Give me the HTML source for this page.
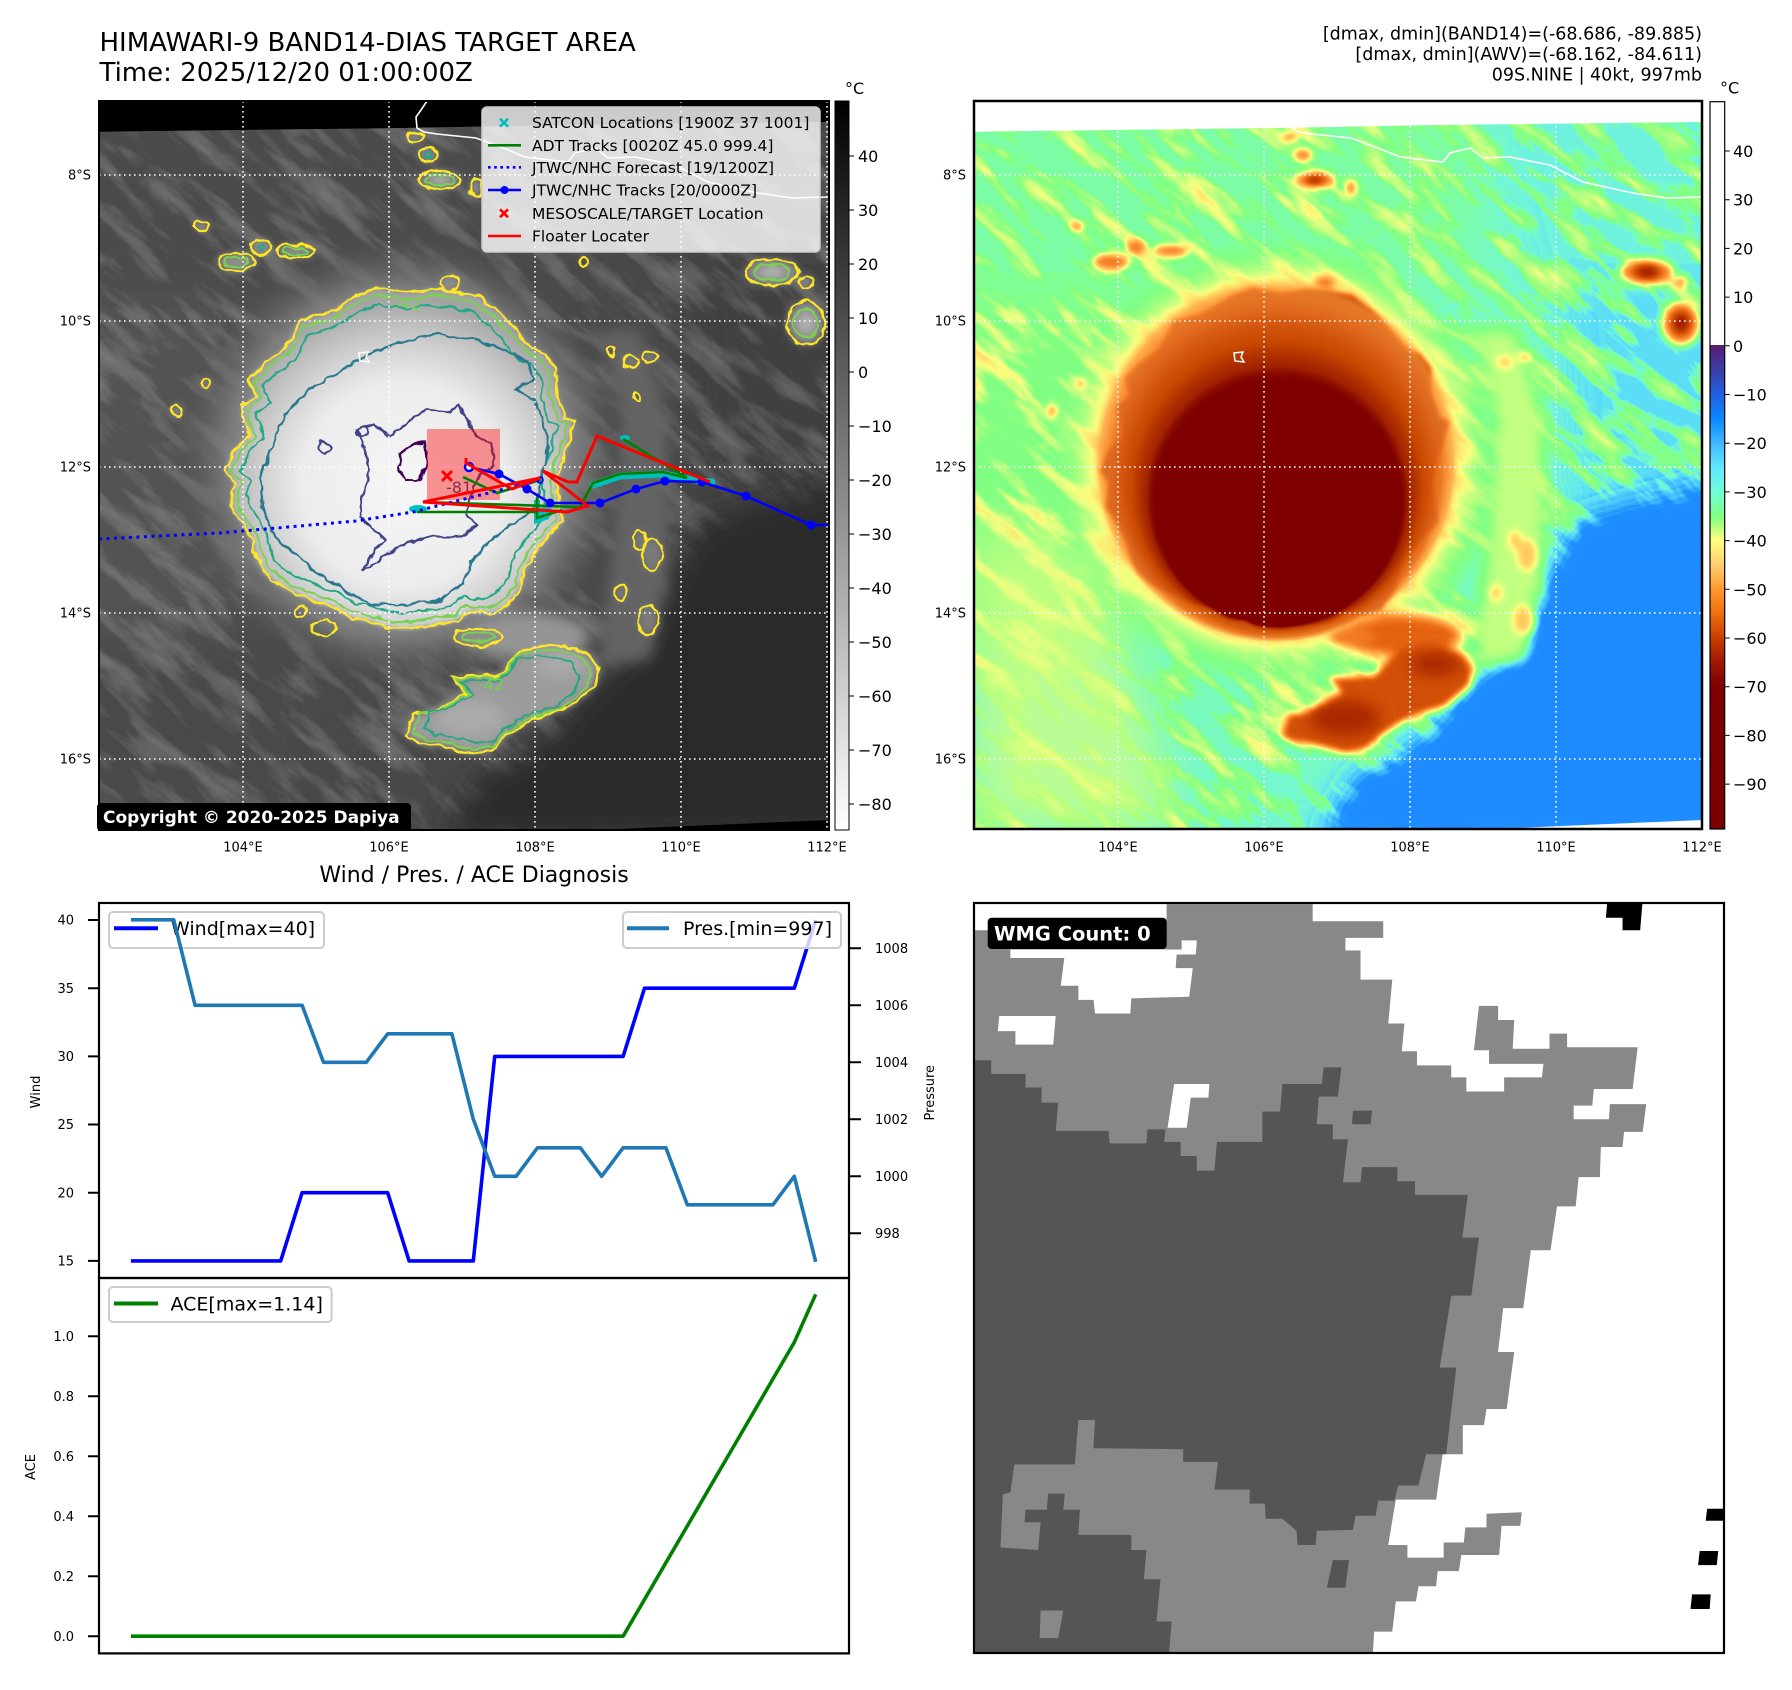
<!DOCTYPE html>
<html><head><meta charset="utf-8"><title>HIMAWARI-9 BAND14-DIAS TARGET AREA</title>
<style>
html,body{margin:0;padding:0;background:#fff;}
svg{display:block;}
text{font-family:"DejaVu Sans","Liberation Sans",sans-serif;}
</style></head><body>
<svg width="1792" height="1690" viewBox="0 0 1792 1690" xmlns="http://www.w3.org/2000/svg">
<defs>
 <clipPath id="cL"><rect x="99" y="101" width="730" height="729"/></clipPath>
 <clipPath id="cR"><rect x="974" y="101" width="728" height="728"/></clipPath>
 <clipPath id="cBR"><rect x="975" y="904" width="748" height="748"/></clipPath>
 <filter id="b25" x="-60%" y="-60%" width="220%" height="220%"><feGaussianBlur stdDeviation="25"/></filter>
 <filter id="b14" x="-50%" y="-50%" width="200%" height="200%"><feGaussianBlur stdDeviation="14"/></filter>
 <filter id="b7" x="-50%" y="-50%" width="200%" height="200%"><feGaussianBlur stdDeviation="7"/></filter>
 <filter id="b4" x="-50%" y="-50%" width="200%" height="200%"><feGaussianBlur stdDeviation="4"/></filter>
 <filter id="b2" x="-20%" y="-20%" width="140%" height="140%"><feGaussianBlur stdDeviation="2.5"/></filter>
 <filter id="nz" x="0" y="0" width="1" height="1" color-interpolation-filters="sRGB">
  <feTurbulence type="fractalNoise" baseFrequency="0.013 0.05" numOctaves="4" seed="11"/>
  <feColorMatrix type="matrix" values="0 0 0 0 1  0 0 0 0 1  0 0 0 0 1  1.1 0 0 0 -0.5"/>
  <feComponentTransfer><feFuncA type="table" tableValues="0 0.12 0.2 0.24 0.26 0.27"/></feComponentTransfer>
 </filter>
 <filter id="wob" x="-5%" y="-5%" width="110%" height="110%" color-interpolation-filters="sRGB">
  <feTurbulence type="fractalNoise" baseFrequency="0.09" numOctaves="2" seed="5" result="t"/>
  <feDisplacementMap in="SourceGraphic" in2="t" scale="7" xChannelSelector="R" yChannelSelector="G"/>
 </filter>
 <filter id="cmap" x="0" y="0" width="1" height="1" color-interpolation-filters="sRGB">
  <feComponentTransfer>
   <feFuncR type="table" tableValues="0.118 0.118 0.118 0.118 0.118 0.118 0.118 0.118 0.118 0.239 0.356 0.45 0.502 0.502 0.584 0.686 0.824 0.969 1 1 1 1 0.961 0.912 0.85 0.784 0.719 0.654 0.588 0.545 0.502 0.498 0.498 0.498 0.498 0.498 0.498 0.498 0.498 0.498 0.498"/>
   <feFuncG type="table" tableValues="0.431 0.447 0.465 0.482 0.498 0.514 0.531 0.549 0.565 0.725 0.869 0.967 1 1 1 1 1 1 0.914 0.806 0.706 0.608 0.51 0.412 0.34 0.275 0.209 0.144 0.078 0.039 0 0 0 0 0 0 0 0 0 0 0"/>
   <feFuncB type="table" tableValues="1 1 1 1 1 1 1 1 1 1 0.967 0.85 0.588 0.516 0.502 0.502 0.502 0.502 0.451 0.388 0.314 0.235 0.157 0.078 0.042 0.016 0 0 0 0 0 0 0 0 0 0 0 0 0 0 0"/>
  </feComponentTransfer>
 </filter>
 <radialGradient id="gs" gradientUnits="userSpaceOnUse" cx="403" cy="485" r="185">
  <stop offset="0" stop-color="#f6f6f6"/>
  <stop offset="0.55" stop-color="#ececec"/>
  <stop offset="0.72" stop-color="#d6d6d6"/>
  <stop offset="0.86" stop-color="#c0c0c0"/>
  <stop offset="1" stop-color="#a4a4a4"/>
 </radialGradient>
 <radialGradient id="gh" gradientUnits="userSpaceOnUse" cx="402" cy="462" r="245">
  <stop offset="0.62" stop-color="#909090" stop-opacity="1"/>
  <stop offset="0.72" stop-color="#808080" stop-opacity="0.85"/>
  <stop offset="0.82" stop-color="#6a6a6a" stop-opacity="0.45"/>
  <stop offset="0.92" stop-color="#555555" stop-opacity="0"/>
 </radialGradient>
 <radialGradient id="ring" gradientUnits="userSpaceOnUse" cx="1276" cy="460" r="182" fx="1282" fy="593">
  <stop offset="0" stop-color="#800000" stop-opacity="0"/>
  <stop offset="0.67" stop-color="#800000" stop-opacity="0"/>
  <stop offset="0.72" stop-color="#b03000" stop-opacity="0.7"/>
  <stop offset="0.8" stop-color="#d05000" stop-opacity="0.9"/>
  <stop offset="0.9" stop-color="#e87020" stop-opacity="0.9"/>
  <stop offset="0.97" stop-color="#ffa040" stop-opacity="0.6"/>
  <stop offset="1" stop-color="#ffd060" stop-opacity="0"/>
 </radialGradient>
 <linearGradient id="cbL" x1="0" y1="0" x2="0" y2="1">
  <stop offset="0" stop-color="#000"/><stop offset="1" stop-color="#fff"/>
 </linearGradient>
 <linearGradient id="cbR" x1="0" y1="0" x2="0" y2="1">
  <stop offset="0" stop-color="#fff"/><stop offset="0.3345" stop-color="#fff"/>
  <stop offset="0.3346" stop-color="#5c1a70"/><stop offset="0.37" stop-color="#3a3fa8"/>
  <stop offset="0.4024" stop-color="#2060e0"/><stop offset="0.436" stop-color="#0a88ff"/>
  <stop offset="0.4695" stop-color="#40b8ff"/><stop offset="0.503" stop-color="#60e8ff"/>
  <stop offset="0.537" stop-color="#70ffd8"/><stop offset="0.571" stop-color="#80ff80"/>
  <stop offset="0.6026" stop-color="#ffff80"/><stop offset="0.636" stop-color="#ffd070"/>
  <stop offset="0.6697" stop-color="#ff9a30"/><stop offset="0.703" stop-color="#f07010"/>
  <stop offset="0.7366" stop-color="#c84000"/><stop offset="0.77" stop-color="#a01800"/>
  <stop offset="0.8034" stop-color="#800000"/><stop offset="1" stop-color="#7a0000"/>
 </linearGradient>
 <path id="Yp" d="M377,288 L406,293 L434,289 L452,291 L477,295 L499,312 L516,330 L531,348 L545,354 L556,368 L556,393 L565,418 L574,421 L568,443 L561,464 L556,482 L559,500 L563,521 L549,536 L534,554 L524,571 L520,589 L506,607 L491,614 L470,611 L456,621 L434,625 L406,629 L384,627 L370,621 L352,618 L334,607 L316,602 L295,593 L277,584 L263,571 L256,557 L252,539 L241,521 L231,507 L234,482 L225,471 L234,450 L249,436 L241,407 L256,396 L249,379 L263,364 L284,350 L299,321 L327,314 L356,296 Z"/>
 <path id="SBp" d="M452,677 L499,675 L524,648 L563,645 L588,654 L599,668 L595,686 L570,707 L534,718 L506,736 L491,750 L470,754 L441,746 L420,743 L406,736 L413,714 L434,711 L449,704 L466,693 Z"/>
 <g id="fld">
  <rect x="99" y="101" width="730" height="729" fill="#494949"/>
  <g filter="url(#b25)">
   <path d="M40,60 L620,60 L610,240 L470,300 L300,330 L40,340 Z" fill="#4c4c4c"/>
   <path d="M600,60 L880,60 L880,290 L640,300 Z" fill="#454545"/>
   <path d="M680,280 L880,280 L880,520 L690,520 Z" fill="#404040"/>
   <path d="M40,300 L255,300 L240,480 L262,640 L40,650 Z" fill="#535353"/>
   <path d="M40,640 L330,630 L330,880 L40,880 Z" fill="#4a4a4a"/>
   <path d="M300,760 L470,760 L470,880 L300,880 Z" fill="#464646"/>
  </g>
  <rect x="-400" y="-300" width="1700" height="1400" transform="rotate(40 464 465)" filter="url(#nz)"/>
  <path d="M880,470 L699,521 L673,574 L635,651 L596,678 L558,727 L520,758 L482,773 L463,804 L443,840 L880,840 Z" fill="#2c2c2c" filter="url(#b14)"/>
  <ellipse cx="402" cy="462" rx="245" ry="240" fill="url(#gh)"/>
  <g filter="url(#b7)">
   <path d="M600,330 L640,330 L668,420 L668,560 L650,660 L600,665 L612,560 L622,420 Z" fill="#646464"/>
   <ellipse cx="530" cy="636" rx="60" ry="24" fill="#959595"/>
  </g>
  <g filter="url(#b4)" fill="#8e8e8e">
   <ellipse cx="415" cy="137" rx="9" ry="5"/><ellipse cx="428" cy="155" rx="10" ry="7"/>
   <ellipse cx="440" cy="180" rx="21" ry="9"/><ellipse cx="476" cy="188" rx="6" ry="9"/>
   <ellipse cx="202" cy="226" rx="7" ry="5"/><ellipse cx="261" cy="247" rx="10" ry="8"/>
   <ellipse cx="296" cy="251" rx="19" ry="7"/><ellipse cx="236" cy="262" rx="19" ry="9"/>
   <ellipse cx="772" cy="272" rx="27" ry="13"/><ellipse cx="806" cy="282" rx="7" ry="6"/>
   <ellipse cx="450" cy="283" rx="10" ry="7"/><ellipse cx="806" cy="323" rx="19" ry="22"/>
   <ellipse cx="177" cy="411" rx="5" ry="7"/><ellipse cx="206" cy="383" rx="4" ry="5"/>
   <ellipse cx="650" cy="357" rx="8" ry="6" fill="#7a7a7a"/><ellipse cx="630" cy="362" rx="8" ry="6" fill="#7a7a7a"/>
   <ellipse cx="652" cy="555" rx="10" ry="16" fill="#7a7a7a"/><ellipse cx="621" cy="593" rx="6" ry="8" fill="#7a7a7a"/>
   <ellipse cx="640" cy="540" rx="6" ry="10" fill="#7a7a7a"/><ellipse cx="648" cy="620" rx="10" ry="15" fill="#7a7a7a"/>
   <ellipse cx="478" cy="637" rx="24" ry="9"/>
   <ellipse cx="440" cy="180" rx="8" ry="4" fill="#b0b0b0"/><ellipse cx="772" cy="272" rx="12" ry="6" fill="#b0b0b0"/>
   <ellipse cx="806" cy="323" rx="8" ry="10" fill="#b0b0b0"/>
  </g>
  <use href="#SBp" fill="#9c9c9c" filter="url(#b4)"/>
  <g filter="url(#b7)" fill="#aaaaaa">
   <ellipse cx="470" cy="718" rx="35" ry="18"/><ellipse cx="560" cy="664" rx="25" ry="12"/>
  </g>
  <use href="#Yp" fill="url(#gs)" filter="url(#b2)"/>
 </g>
</defs>

<rect x="0" y="0" width="1792" height="1690" fill="#fff"/>

<!-- Titles -->
<text x="99.5" y="51" font-size="26" fill="#000">HIMAWARI-9 BAND14-DIAS TARGET AREA</text>
<text x="99.5" y="81" font-size="26" fill="#000">Time: 2025/12/20 01:00:00Z</text>
<g font-size="17.5" text-anchor="end" fill="#000">
 <text x="1702" y="39.5">[dmax, dmin](BAND14)=(-68.686, -89.885)</text>
 <text x="1702" y="60">[dmax, dmin](AWV)=(-68.162, -84.611)</text>
 <text x="1702" y="80.5">09S.NINE | 40kt, 997mb</text>
</g>

<!-- ================= LEFT MAP ================= -->
<g clip-path="url(#cL)">
 <use href="#fld"/>
 <path d="M99,101 L829,101 L829,122 L560,125 L400,128 L99,131.7 Z" fill="#000"/>
 <path d="M595,830 L829,830 L829,820 Z" fill="#000"/>
 <path d="M427,101 L421,110 L416,117 L417,128 L424,132 L437,134 L476,138 L508,150 L525,157 L568,162 L575,153 L595,148 L608,158 L635,157 L675,165 L708,182 L758,193 L792,198 L829,197" fill="none" stroke="#fff" stroke-width="1.6"/>
 <!-- contours -->
 <g filter="url(#wob)" fill="none" stroke-width="2.3">
  <use href="#Yp" stroke="#fde725"/>
  <use href="#Yp" stroke="#7ad151" transform="matrix(0.962 0 0 0.962 15.2 17.6)"/>
  <use href="#Yp" stroke="#22a884" transform="matrix(0.905 0 0 0.905 38 43.9)"/>
  <path d="M391,345 L434,334 L470,339 L506,350 L527,361 L534,379 L516,389 L534,400 L541,418 L549,439 L545,464 L538,493 L534,507 L506,529 L488,543 L470,564 L463,582 L441,600 L399,605 L370,604 L349,593 L327,579 L306,564 L291,550 L274,536 L263,507 L261,479 L270,450 L277,432 L291,407 L309,389 L334,375 L363,357 Z" stroke="#2a788e"/>
  <path d="M356,429 L373,425 L391,436 L413,418 L427,409 L449,413 L459,404 L466,418 L477,436 L491,443 L495,464 L477,479 L470,500 L466,514 L477,525 L463,536 L434,536 L406,543 L388,554 L377,561 L363,571 L370,557 L384,539 L370,525 L359,518 L363,493 L370,471 L363,443 Z" stroke="#414487"/>
  <path d="M400,454 L413,445 L425,443 L427,464 L420,479 L406,482 L399,468 Z" stroke="#440154"/>
  <ellipse cx="324" cy="447" rx="6" ry="5" stroke="#414487"/>
  <ellipse cx="362" cy="432" rx="6" ry="5" stroke="#414487"/>
  <use href="#SBp" stroke="#fde725"/>
  <use href="#SBp" stroke="#7ad151" transform="matrix(0.92 0 0 0.92 40 56)"/>
  <use href="#SBp" stroke="#22a884" transform="matrix(0.8 0 0 0.8 100 140)"/>
  <g stroke="#fde725">
   <ellipse cx="415" cy="137" rx="9" ry="5"/><ellipse cx="428" cy="155" rx="10" ry="7"/>
   <ellipse cx="440" cy="180" rx="21" ry="9"/><ellipse cx="476" cy="188" rx="6" ry="9"/>
   <ellipse cx="202" cy="226" rx="7" ry="5"/><ellipse cx="261" cy="247" rx="10" ry="8"/>
   <ellipse cx="296" cy="251" rx="19" ry="7"/><ellipse cx="236" cy="262" rx="19" ry="9"/>
   <ellipse cx="772" cy="272" rx="27" ry="13"/><ellipse cx="806" cy="282" rx="7" ry="6"/>
   <ellipse cx="450" cy="283" rx="10" ry="7"/><ellipse cx="806" cy="323" rx="19" ry="22"/>
   <ellipse cx="177" cy="411" rx="5" ry="7"/><ellipse cx="206" cy="383" rx="4" ry="5"/>
   <ellipse cx="650" cy="357" rx="8" ry="6"/><ellipse cx="630" cy="362" rx="8" ry="6"/>
   <ellipse cx="652" cy="555" rx="10" ry="16"/><ellipse cx="621" cy="593" rx="6" ry="8"/>
   <ellipse cx="640" cy="540" rx="6" ry="10"/><ellipse cx="648" cy="620" rx="10" ry="15"/>
   <ellipse cx="478" cy="637" rx="24" ry="9"/><ellipse cx="583" cy="263" rx="4" ry="4"/>
   <ellipse cx="612" cy="352" rx="4" ry="4"/><ellipse cx="637" cy="396" rx="3" ry="4"/>
   <ellipse cx="323" cy="628" rx="12" ry="8"/><ellipse cx="300" cy="612" rx="6" ry="5"/>
  </g>
  <g stroke="#7ad151">
   <ellipse cx="440" cy="180" rx="14" ry="5"/><ellipse cx="772" cy="272" rx="18" ry="8"/>
   <ellipse cx="806" cy="323" rx="12" ry="14"/><ellipse cx="296" cy="251" rx="12" ry="4"/>
   <ellipse cx="236" cy="262" rx="12" ry="5"/><ellipse cx="478" cy="637" rx="16" ry="5"/>
  </g>
  <g stroke="#22a884"><ellipse cx="428" cy="155" rx="3" ry="3"/><ellipse cx="261" cy="247" rx="3" ry="3"/></g>
 </g>
 <g font-size="16">
  <text x="395" y="309" fill="#7ad151">-42</text>
  <text x="446" y="493" fill="#414487">-81</text>
  <text x="478" y="690" fill="#7ad151">-42</text>
 </g>
 <path d="M359,353 L368,352 L366,357 L369,362 L360,361 Z" fill="none" stroke="#fff" stroke-width="1.5"/>
 <!-- gridlines -->
 <g stroke="#fff" stroke-width="1.6" stroke-dasharray="1.6,3.4" fill="none">
  <path d="M243,101 V830 M389,101 V830 M535,101 V830 M681,101 V830 M827,101 V830"/>
  <path d="M99,175 H829 M99,321 H829 M99,467 H829 M99,613 H829 M99,759 H829"/>
 </g>
 <!-- tracks -->
 <rect x="427" y="429" width="73" height="71" fill="#ff0000" fill-opacity="0.4"/>
 <g fill="#00bfbf">
  <ellipse cx="418" cy="509" rx="9" ry="4"/><ellipse cx="545" cy="512" rx="9" ry="5"/><ellipse cx="625" cy="438" rx="5" ry="3"/>
 </g>
 <polyline points="593,485 620,476 663,474 700,481 712,482" fill="none" stroke="#00bfbf" stroke-width="7" stroke-linecap="round"/>
 <polyline points="537,500 537,520 548,516" fill="none" stroke="#00bfbf" stroke-width="6"/>
 <g fill="none" stroke="#008000" stroke-width="2.6">
  <polyline points="417,512 537,512"/>
  <polyline points="537,497 537,518 562,510"/>
  <polyline points="463,477 497,493 540,480"/>
  <polyline points="423,502 580,507 593,483 620,474 663,472 687,478"/>
  <polyline points="623,439 687,478"/>
 </g>
 <polyline points="99,539 220,533 356,521 413,512 540,480" fill="none" stroke="#0000ff" stroke-width="3" stroke-dasharray="3,4.5"/>
 <polyline points="829,525 811,525 746,496 702,482 665,481 636,489 600,503 550,503 527,489 499,474 469,467" fill="none" stroke="#0000ff" stroke-width="2.6"/>
 <g fill="#0000ff">
  <circle cx="811" cy="525" r="4.5"/><circle cx="746" cy="496" r="4.5"/><circle cx="702" cy="482" r="4.5"/>
  <circle cx="665" cy="481" r="4.5"/><circle cx="636" cy="489" r="4.5"/><circle cx="600" cy="503" r="4.5"/>
  <circle cx="550" cy="503" r="4.5"/><circle cx="527" cy="489" r="4.5"/><circle cx="499" cy="474" r="4.5"/>
 </g>
 <circle cx="469" cy="467" r="4" fill="#fff" stroke="#0000ff" stroke-width="2.5"/>
 <circle cx="540" cy="480" r="3" fill="none" stroke="#0000ff" stroke-width="1.5"/>
 <polyline points="466,458 466,463 512,489 540,478 423,502 567,512 588,506 543,471 568,482 577,482 597,436 710,482" fill="none" stroke="#ff0000" stroke-width="3" stroke-linejoin="miter"/>
 <path d="M442,471 L452,481 M442,481 L452,471" stroke="#ff0000" stroke-width="3"/>
</g>
<rect x="99" y="101" width="730" height="729" fill="none" stroke="#000" stroke-width="2"/>
<!-- legend -->
<rect x="482" y="107" width="338" height="145" rx="5" fill="#fff" fill-opacity="0.8" stroke="#cccccc" stroke-width="1.5"/>
<g fill="none" stroke-width="2.6">
 <path d="M500,118.7 L508,126.7 M500,126.7 L508,118.7" stroke="#00bfbf"/>
 <path d="M488,145.3 H521" stroke="#008000"/>
 <path d="M488,167.3 H521" stroke="#0000ff" stroke-dasharray="2.6,3.6"/>
 <path d="M488,190 H521" stroke="#0000ff"/>
 <path d="M500,209.3 L508,217.3 M500,217.3 L508,209.3" stroke="#ff0000"/>
 <path d="M488,236 H521" stroke="#ff0000"/>
</g>
<circle cx="504.5" cy="190" r="4" fill="#0000ff"/>
<g font-size="15.5" fill="#000">
 <text x="532" y="128.2">SATCON Locations [1900Z 37 1001]</text>
 <text x="532" y="150.8">ADT Tracks [0020Z 45.0 999.4]</text>
 <text x="532" y="172.8">JTWC/NHC Forecast [19/1200Z]</text>
 <text x="532" y="195.5">JTWC/NHC Tracks [20/0000Z]</text>
 <text x="532" y="218.8">MESOSCALE/TARGET Location</text>
 <text x="532" y="241.5">Floater Locater</text>
</g>
<rect x="97" y="803" width="314" height="28" rx="4" fill="#000"/>
<text x="103" y="823" font-size="17" font-weight="bold" fill="#fff">Copyright © 2020-2025 Dapiya</text>

<!-- map tick labels -->
<g font-size="13" fill="#000" text-anchor="end">
 <text x="91" y="179.5">8°S</text><text x="91" y="325.5">10°S</text><text x="91" y="471.5">12°S</text>
 <text x="91" y="617.5">14°S</text><text x="91" y="763.5">16°S</text>
 <text x="966" y="179.5">8°S</text><text x="966" y="325.5">10°S</text><text x="966" y="471.5">12°S</text>
 <text x="966" y="617.5">14°S</text><text x="966" y="763.5">16°S</text>
</g>
<g font-size="13" fill="#000" text-anchor="middle">
 <text x="243" y="851.5">104°E</text><text x="389" y="851.5">106°E</text><text x="535" y="851.5">108°E</text>
 <text x="681" y="851.5">110°E</text><text x="827" y="851.5">112°E</text>
 <text x="1118" y="851.5">104°E</text><text x="1264" y="851.5">106°E</text><text x="1410" y="851.5">108°E</text>
 <text x="1556" y="851.5">110°E</text><text x="1702" y="851.5">112°E</text>
</g>

<!-- left colorbar -->
<rect x="835" y="101" width="14" height="729" fill="url(#cbL)" stroke="#000" stroke-width="1"/>
<text x="845" y="94" font-size="16">°C</text>
<g stroke="#000" stroke-width="1">
 <path d="M849,156 h5 M849,210 h5 M849,264 h5 M849,318 h5 M849,372 h5 M849,426 h5 M849,480 h5 M849,534 h5 M849,588 h5 M849,642 h5 M849,696 h5 M849,750 h5 M849,804 h5"/>
</g>
<g font-size="16" fill="#000">
 <text x="858" y="162">40</text><text x="858" y="216">30</text><text x="858" y="270">20</text>
 <text x="858" y="324">10</text><text x="858" y="378">0</text><text x="858" y="432">−10</text>
 <text x="858" y="486">−20</text><text x="858" y="540">−30</text><text x="858" y="594">−40</text>
 <text x="858" y="648">−50</text><text x="858" y="702">−60</text><text x="858" y="756">−70</text>
 <text x="858" y="810">−80</text>
</g>

<!-- ================= RIGHT MAP ================= -->
<g clip-path="url(#cR)">
 <g filter="url(#cmap)"><use href="#fld" transform="translate(875 0)"/></g>
 <circle cx="1276" cy="460" r="182" fill="url(#ring)"/>
 <path d="M974,520 L1090,560 L1180,830 L974,830 Z" fill="#e0ff80" opacity="0.65" filter="url(#b25)"/>
 <path d="M1302,101 L1296,110 L1291,117 L1292,128 L1299,132 L1312,134 L1351,138 L1383,150 L1400,157 L1443,162 L1450,153 L1470,148 L1483,158 L1510,157 L1550,165 L1583,182 L1633,193 L1667,198 L1704,197" fill="none" stroke="#fff" stroke-width="1.6"/>
 <path d="M974,101 L1702,101 L1702,122 L1435,125 L1275,128 L974,131.7 Z" fill="#fff"/>
 <path d="M1470,830 L1702,830 L1702,820 Z" fill="#fff"/>
 <path d="M1234,353 L1243,352 L1241,357 L1244,362 L1235,361 Z" fill="none" stroke="#fff" stroke-width="1.5"/>
 <g stroke="#fff" stroke-width="1.6" stroke-dasharray="1.6,3.4" fill="none">
  <path d="M1118,101 V830 M1264,101 V830 M1410,101 V830 M1556,101 V830 M1702,101 V830"/>
  <path d="M974,175 H1702 M974,321 H1702 M974,467 H1702 M974,613 H1702 M974,759 H1702"/>
 </g>
</g>
<rect x="974" y="101" width="728" height="728" fill="none" stroke="#000" stroke-width="2.5"/>

<!-- right colorbar -->
<rect x="1710" y="101.7" width="14.7" height="727.3" fill="url(#cbR)" stroke="#000" stroke-width="1.2"/>
<text x="1720" y="93.3" font-size="16">°C</text>
<g stroke="#000" stroke-width="1">
 <path d="M1724.7,151 h5 M1724.7,199.7 h5 M1724.7,248.4 h5 M1724.7,297.1 h5 M1724.7,345.8 h5 M1724.7,394.5 h5 M1724.7,443.2 h5 M1724.7,491.9 h5 M1724.7,540.6 h5 M1724.7,589.3 h5 M1724.7,638 h5 M1724.7,686.7 h5 M1724.7,735.4 h5 M1724.7,784.1 h5"/>
</g>
<g font-size="16" fill="#000">
 <text x="1733" y="157">40</text><text x="1733" y="205.7">30</text><text x="1733" y="254.4">20</text>
 <text x="1733" y="303.1">10</text><text x="1733" y="351.8">0</text><text x="1733" y="400.5">−10</text>
 <text x="1733" y="449.2">−20</text><text x="1733" y="497.9">−30</text><text x="1733" y="546.6">−40</text>
 <text x="1733" y="595.3">−50</text><text x="1733" y="644">−60</text><text x="1733" y="692.7">−70</text>
 <text x="1733" y="741.4">−80</text><text x="1733" y="790.1">−90</text>
</g>

<!-- ================= BOTTOM LEFT PLOTS ================= -->
<text x="474" y="882" font-size="22" text-anchor="middle">Wind / Pres. / ACE Diagnosis</text>
<polyline points="130.9,1260.9 280.7,1260.9 302.1,1192.7 387.7,1192.7 409.1,1260.9 473.3,1260.9 494.7,1056.4 623.1,1056.4 644.5,988.2 794.3,988.2 815.7,920" fill="none" stroke="#0000ff" stroke-width="3.6" stroke-linejoin="round"/>
<rect x="109" y="912" width="215" height="36" rx="4" fill="#fff" fill-opacity="0.8" stroke="#cccccc" stroke-width="2"/>
<path d="M114,928.3 H158" stroke="#0000ff" stroke-width="4"/>
<text x="171" y="935" font-size="19">Wind[max=40]</text>
<polyline points="130.9,919.8 173.7,919.8 195.1,1005.3 302.1,1005.3 323.5,1062.3 366.3,1062.3 387.7,1033.8 451.9,1033.8 473.3,1119.3 494.7,1176.3 516.1,1176.3 537.5,1147.8 580.3,1147.8 601.7,1176.3 623.1,1147.8 665.9,1147.8 687.3,1204.8 772.9,1204.8 794.3,1176.3 815.7,1261.8" fill="none" stroke="#1f77b4" stroke-width="3.6" stroke-linejoin="round"/>
<rect x="623" y="912" width="218" height="36" rx="4" fill="#fff" fill-opacity="0.8" stroke="#cccccc" stroke-width="2"/>
<path d="M627,928.3 H669" stroke="#1f77b4" stroke-width="4"/>
<text x="683" y="935" font-size="19">Pres.[min=997]</text>
<rect x="99" y="903" width="750" height="375" fill="none" stroke="#000" stroke-width="2.2"/>
<polyline points="130.9,1636.2 623.1,1636.2 644.5,1599.5 665.9,1562.7 687.3,1526 708.7,1489.2 730.1,1452.5 751.5,1415.8 772.9,1379 794.3,1342.3 815.7,1294.3" fill="none" stroke="#008000" stroke-width="3.6" stroke-linejoin="round"/>
<rect x="109" y="1287" width="222.6" height="35" rx="4" fill="#fff" fill-opacity="0.8" stroke="#cccccc" stroke-width="2"/>
<path d="M114,1303.5 H158" stroke="#008000" stroke-width="4"/>
<text x="170.5" y="1310.5" font-size="19">ACE[max=1.14]</text>
<rect x="99" y="1278" width="750" height="375.4" fill="none" stroke="#000" stroke-width="2.2"/>
<g stroke="#000" stroke-width="2">
 <path d="M88,920 H99 M88,988.2 H99 M88,1056.4 H99 M88,1124.5 H99 M88,1192.7 H99 M88,1260.9 H99"/>
 <path d="M849,948.3 H861 M849,1005.3 H861 M849,1062.3 H861 M849,1119.3 H861 M849,1176.3 H861 M849,1233.3 H861"/>
 <path d="M88,1636.2 H99 M88,1576.2 H99 M88,1516.2 H99 M88,1456.3 H99 M88,1396.3 H99 M88,1336.3 H99"/>
</g>
<g font-size="13" fill="#000" text-anchor="end">
 <text x="74" y="924.7">40</text><text x="74" y="992.9">35</text><text x="74" y="1061.1">30</text>
 <text x="74" y="1129.2">25</text><text x="74" y="1197.4">20</text><text x="74" y="1265.6">15</text>
 <text x="74" y="1640.9">0.0</text><text x="74" y="1580.9">0.2</text><text x="74" y="1520.9">0.4</text>
 <text x="74" y="1461">0.6</text><text x="74" y="1401">0.8</text><text x="74" y="1341">1.0</text>
</g>
<g font-size="13" fill="#000">
 <text x="875" y="953">1008</text><text x="875" y="1010">1006</text><text x="875" y="1067">1004</text>
 <text x="875" y="1124">1002</text><text x="875" y="1181">1000</text><text x="875" y="1238">998</text>
</g>
<text transform="translate(40,1092) rotate(-90)" font-size="13" text-anchor="middle">Wind</text>
<text transform="translate(934,1092.7) rotate(-90)" font-size="13" text-anchor="middle">Pressure</text>
<text transform="translate(35,1467) rotate(-90)" font-size="13" text-anchor="middle">ACE</text>

<!-- ================= BOTTOM RIGHT PANEL ================= -->
<g clip-path="url(#cBR)">
<svg x="960" y="890" width="790" height="790" viewBox="0 0 1568 1568">
 <polygon fill="#888888" points="28,80 410,80 410,28 700,28 700,62 840,62 840,95 765,95 765,120 795,120 795,178 858,178 850,265 882,265 877,320 907,320 907,348 975,348 975,372 1005,372 1005,400 1080,400 1080,372 1155,372 1158,345 1050,345 1050,318 1020,318 1030,230 1068,230 1068,258 1100,258 1097,315 1170,315 1170,285 1205,285 1205,312 1345,312 1335,395 1258,395 1255,428 1218,428 1218,455 1288,455 1290,425 1362,425 1355,480 1318,480 1315,510 1272,510 1270,570 1228,570 1222,628 1185,628 1172,715 1133,715 1118,830 1078,830 1068,917 1100,917 1085,1030 1045,1030 1040,1062 998,1062 998,1120 958,1120 945,1210 865,1210 850,1300 888,1300 888,1325 960,1325 960,1295 1000,1295 1003,1265 1045,1265 1045,1238 1115,1235 1112,1262 1075,1262 1070,1320 995,1320 990,1352 948,1352 945,1382 910,1382 905,1412 865,1412 858,1472 822,1472 818,1540 28,1540"/>
 <g fill="#ffffff">
  <polygon points="100,118 440,118 440,100 470,100 468,128 430,128 428,155 462,155 455,212 340,215 338,245 268,245 265,218 235,218 235,190 200,190 207,135 100,135"/>
  <polygon points="78,250 190,250 185,307 110,307 110,280 75,280"/>
  <polygon points="425,385 495,385 493,412 458,412 450,472 412,472"/>
 </g>
 <g fill="#555555">
  <polygon points="20,338 62,338 62,365 130,365 130,392 162,392 162,422 195,422 190,478 295,478 297,503 370,503 372,475 408,475 405,500 438,500 438,528 470,528 470,557 505,557 510,500 600,500 600,440 635,440 640,385 718,385 722,352 757,352 750,410 712,410 708,465 740,465 740,495 770,495 760,580 795,580 798,550 868,550 868,578 903,578 903,605 1008,605 997,690 1030,690 1015,805 975,805 952,948 985,948 965,1120 925,1120 910,1182 870,1182 862,1212 830,1212 825,1242 785,1242 780,1270 708,1272 706,1300 670,1300 668,1272 640,1248 607,1248 605,1218 575,1218 575,1190 505,1190 512,1135 443,1135 443,1110 265,1108 268,1052 235,1052 228,1140 108,1140 100,1195 85,1200 80,1310 20,1310"/>
  <polygon points="20,1305 80,1305 155,1310 160,1255 128,1255 130,1230 172,1230 175,1198 208,1198 205,1230 238,1230 235,1280 340,1280 340,1310 370,1310 365,1368 398,1368 390,1452 420,1452 413,1540 20,1540"/>
  <polygon points="780,438 818,438 815,465 778,465"/>
  <polygon points="740,1330 772,1330 765,1385 728,1385"/>
 </g>
 <polygon fill="#888888" points="160,1430 205,1430 195,1485 158,1485"/>
 <g fill="#000">
  <polygon points="1285,20 1355,20 1350,80 1315,80 1315,55 1282,55"/>
  <polygon points="1483,1228 1530,1228 1530,1252 1480,1252"/>
  <polygon points="1468,1312 1505,1312 1502,1340 1465,1340"/>
  <polygon points="1453,1398 1490,1398 1488,1427 1450,1427"/>
 </g>
</svg>
</g>
<rect x="974" y="903" width="750" height="750" fill="none" stroke="#000" stroke-width="2.2"/>
<rect x="987.7" y="917.7" width="179" height="31.3" rx="4" fill="#000"/>
<text x="994" y="940.5" font-size="19.5" font-weight="bold" fill="#fff">WMG Count: 0</text>

</svg>
</body></html>
